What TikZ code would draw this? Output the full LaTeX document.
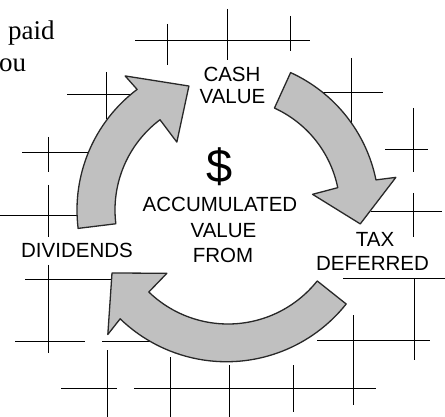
\documentclass[tikz,border=0pt]{standalone}
\usepackage{fontspec}
\setmainfont{Liberation Serif}
\newfontfamily\labelfont{Liberation Sans}
\definecolor{arrowgray}{RGB}{192,192,192}
\definecolor{edgegray}{RGB}{40,40,40}
\tikzset{
  gridline/.style={draw=black, line width=0.8pt},
  flowarrow/.style={fill=arrowgray, draw=edgegray, line width=1.3pt, line join=round},
  cyclelabel/.style={font=\labelfont\fontsize{20.5}{24}\selectfont, anchor=base, inner sep=0pt},
  pagetext/.style={font=\fontsize{27}{32}\selectfont, anchor=base west, inner sep=0pt}
}
\begin{document}
\begin{tikzpicture}[x=1pt, y=-1pt]
  \useasboundingbox (0,0) rectangle (445,417);
  \fill[white] (0,0) rectangle (445,417);

  % layout grid crosshairs (drawn beneath the cycle)
  \draw[gridline] (135,40) -- (310,40);
  \draw[gridline] (167,24) -- (167,65);
  \draw[gridline] (227,9) -- (227,60);
  \draw[gridline] (290,16) -- (290,51);

  \draw[gridline] (67,94) -- (136,94);
  \draw[gridline] (106,72) -- (106,119);

  \draw[gridline] (22,152) -- (92,152);
  \draw[gridline] (48,137) -- (48,172);
  \draw[gridline] (0,215) -- (82,215);
  \draw[gridline] (48,185) -- (48,237);
  \draw[gridline] (48,265) -- (48,353);
  \draw[gridline] (25,279) -- (113,279);
  \draw[gridline] (15,341) -- (85,341);
  \draw[gridline] (102,341) -- (150,341);

  \draw[gridline] (107,350) -- (107,417);
  \draw[gridline] (61,388) -- (117,388);
  \draw[gridline] (134,388) -- (376,388);
  \draw[gridline] (170,357) -- (170,417);
  \draw[gridline] (229,365) -- (229,417);
  \draw[gridline] (293,365) -- (293,412);
  \draw[gridline] (353,315) -- (353,405);
  \draw[gridline] (317,340) -- (430,340);
  \draw[gridline] (414,278) -- (414,360);
  \draw[gridline] (343,278) -- (445,278);

  \draw[gridline] (371,211) -- (442,211);
  \draw[gridline] (413,193) -- (413,237);
  \draw[gridline] (385,149) -- (428,149);
  \draw[gridline] (413,108) -- (413,172);
  \draw[gridline] (322,92) -- (383,92);
  \draw[gridline] (351,58) -- (351,125);

  % the three curved arrows of the cycle
  \begin{scope}[shift={(228,210)}, yscale=-1]
    \filldraw[flowarrow] (187:151) arc[start angle=187, end angle=127, radius=151]
      -- (127.5:169) -- (107.5:130) -- (127:85) -- (127:113)
      arc[start angle=127, end angle=187, radius=113] -- cycle;
    \filldraw[flowarrow] (65.5:151) arc[start angle=65.5, end angle=11.5, radius=151]
      -- (11:171) -- (-6:133) -- (10.5:86) -- (11.5:112)
      arc[start angle=11.5, end angle=65.5, radius=112] -- cycle;
    \filldraw[flowarrow] (-38.5:151) arc[start angle=-38.5, end angle=-134, radius=153]
      -- (-134:173) -- (-151.5:132) -- (-134:88) -- (-134:114)
      arc[start angle=-134, end angle=-38.5, radius=114] -- cycle;
  \end{scope}

  % labels
  \node[cyclelabel] (cash) at (232,82) {CASH};
  \node[cyclelabel] (cashval) at (232.5,104) {VALUE};
  \node[anchor=base, inner sep=0pt, font=\labelfont\fontsize{47}{47}\selectfont] (dollar) at (220,183) {\$};
  \node[cyclelabel] (accum) at (220,212) {ACCUMULATED};
  \node[cyclelabel] (accval) at (223.5,238) {VALUE};
  \node[cyclelabel] (from) at (223,262) {FROM};
  \node[cyclelabel] (div) at (77,258) {DIVIDENDS};
  \node[cyclelabel] (tax) at (375,247) {TAX};
  \node[cyclelabel] (defer) at (372.5,270) {DEFERRED};

  % fragments of the surrounding page text
  \node[pagetext] (paid) at (8,40) {paid};
  \node[pagetext] (ou) at (-1,72) {ou};
\end{tikzpicture}
\end{document}
